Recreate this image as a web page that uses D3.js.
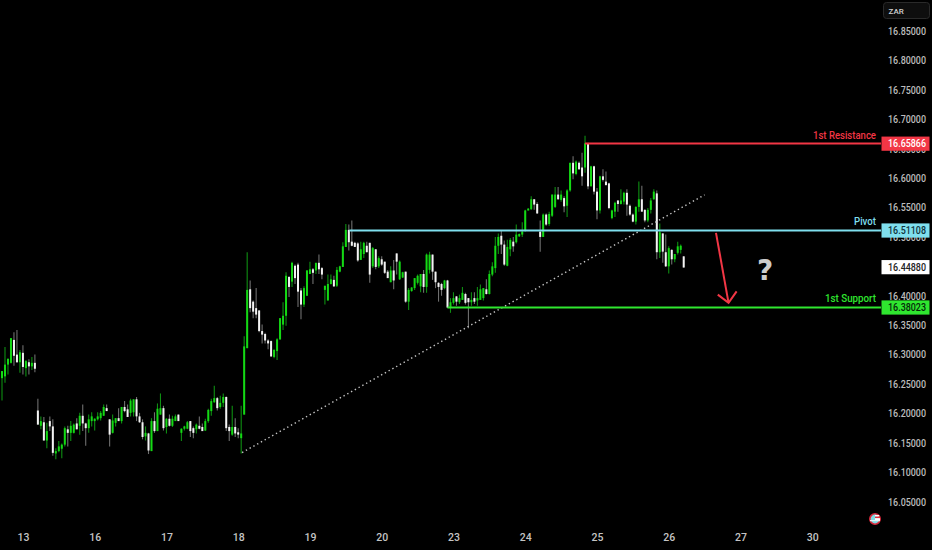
<!DOCTYPE html>
<html><head><meta charset="utf-8">
<script src="https://cdnjs.cloudflare.com/ajax/libs/d3/7.8.5/d3.min.js"></script>
<style>html,body{margin:0;background:#000;overflow:hidden}svg{display:block}text{font-family:Roboto,sans-serif}</style>
</head><body><svg id="c" width="932" height="550"></svg>
<script>
const opens=[16.260,16.263,16.283,16.286,16.325,16.300,16.287,16.303,16.277,16.287,
16.280,16.286,16.205,16.179,16.185,16.154,16.187,16.178,16.132,16.136,
16.140,16.147,16.173,16.167,16.167,16.183,16.179,16.196,16.183,16.175,
16.187,16.187,16.190,16.192,16.196,16.209,16.190,16.167,16.184,16.192,
16.187,16.211,16.207,16.201,16.202,16.224,16.195,16.185,16.161,16.166,
16.136,16.187,16.170,16.198,16.209,16.177,16.191,16.179,16.187,16.198,
16.167,16.174,16.174,16.187,16.175,16.173,16.179,16.177,16.171,16.187,
16.204,16.219,16.226,16.211,16.218,16.228,16.177,16.164,16.177,16.168,
16.158,16.198,16.311,16.411,16.390,16.379,16.375,16.340,16.335,16.324,
16.323,16.296,16.306,16.326,16.351,16.366,16.432,16.424,16.451,16.453,
16.409,16.385,16.400,16.437,16.445,16.443,16.456,16.447,16.410,16.392,
16.420,16.427,16.417,16.441,16.449,16.483,16.512,16.492,16.490,16.489,
16.461,16.471,16.485,16.490,16.450,16.479,16.450,16.462,16.458,16.441,
16.423,16.443,16.472,16.428,16.431,16.441,16.390,16.408,16.413,16.422,
16.416,16.437,16.415,16.444,16.470,16.441,16.422,16.420,16.413,16.426,
16.380,16.388,16.399,16.389,16.393,16.403,16.396,16.389,16.396,16.392,
16.393,16.396,16.411,16.403,16.436,16.447,16.485,16.502,16.487,16.451,
16.479,16.492,16.491,16.501,16.504,16.511,16.545,16.547,16.564,16.556,
16.509,16.500,16.538,16.522,16.536,16.551,16.572,16.563,16.566,16.553,
16.579,16.626,16.607,16.626,16.618,16.618,16.659,16.586,16.620,16.577,
16.545,16.603,16.594,16.591,16.532,16.543,16.562,16.556,16.560,16.575,
16.553,16.538,16.526,16.551,16.564,16.546,16.528,16.546,16.564,16.574,
16.474,16.506,16.474,16.450,16.478,16.462,16.473,16.478,16.467];
const highs=[16.272,16.313,16.293,16.328,16.338,16.342,16.308,16.316,16.291,16.292,
16.296,16.300,16.225,16.195,16.194,16.184,16.195,16.190,16.141,16.153,
16.149,16.178,16.179,16.187,16.183,16.192,16.201,16.215,16.184,16.198,
16.202,16.192,16.202,16.204,16.215,16.215,16.190,16.198,16.192,16.209,
16.211,16.221,16.215,16.225,16.224,16.228,16.201,16.190,16.178,16.167,
16.192,16.202,16.217,16.234,16.213,16.192,16.198,16.196,16.198,16.198,
16.175,16.179,16.187,16.187,16.178,16.183,16.195,16.183,16.191,16.208,
16.225,16.247,16.228,16.230,16.234,16.229,16.181,16.213,16.192,16.175,
16.213,16.331,16.474,16.426,16.392,16.413,16.376,16.351,16.337,16.326,
16.324,16.309,16.328,16.362,16.389,16.440,16.433,16.458,16.453,16.456,
16.413,16.416,16.444,16.458,16.447,16.456,16.470,16.449,16.417,16.436,
16.436,16.434,16.449,16.451,16.491,16.522,16.521,16.528,16.492,16.491,
16.492,16.492,16.492,16.490,16.483,16.479,16.467,16.467,16.458,16.444,
16.450,16.461,16.472,16.460,16.441,16.441,16.413,16.415,16.430,16.436,
16.437,16.444,16.472,16.475,16.470,16.441,16.423,16.422,16.427,16.427,
16.396,16.406,16.399,16.402,16.415,16.405,16.396,16.406,16.406,16.415,
16.419,16.413,16.428,16.443,16.457,16.500,16.506,16.511,16.494,16.495,
16.498,16.500,16.521,16.506,16.525,16.546,16.549,16.569,16.564,16.559,
16.528,16.540,16.540,16.543,16.572,16.585,16.585,16.579,16.569,16.581,
16.626,16.637,16.630,16.628,16.643,16.672,16.660,16.621,16.621,16.583,
16.604,16.615,16.611,16.592,16.546,16.560,16.562,16.581,16.577,16.581,
16.555,16.540,16.552,16.594,16.587,16.547,16.549,16.566,16.581,16.579,
16.523,16.506,16.504,16.484,16.479,16.471,16.492,16.487,16.467];
const lows=[16.222,16.252,16.266,16.285,16.281,16.286,16.269,16.266,16.263,16.266,
16.274,16.270,16.181,16.173,16.154,16.141,16.170,16.128,16.122,16.134,
16.124,16.144,16.144,16.153,16.166,16.173,16.164,16.170,16.145,16.167,
16.178,16.171,16.188,16.188,16.196,16.204,16.144,16.166,16.178,16.187,
16.183,16.202,16.194,16.195,16.195,16.187,16.184,16.156,16.154,16.131,
16.136,16.167,16.170,16.198,16.171,16.166,16.178,16.177,16.187,16.187,
16.153,16.171,16.173,16.160,16.158,16.166,16.173,16.170,16.170,16.184,
16.196,16.218,16.205,16.208,16.211,16.170,16.153,16.162,16.160,16.158,
16.132,16.198,16.311,16.372,16.362,16.362,16.338,16.319,16.319,16.309,
16.296,16.294,16.291,16.325,16.342,16.349,16.398,16.415,16.420,16.381,
16.360,16.381,16.400,16.437,16.420,16.437,16.437,16.428,16.385,16.392,
16.419,16.415,16.415,16.440,16.449,16.483,16.477,16.484,16.483,16.458,
16.461,16.464,16.474,16.422,16.447,16.445,16.447,16.451,16.437,16.430,
16.423,16.411,16.436,16.427,16.430,16.388,16.376,16.407,16.410,16.419,
16.406,16.405,16.405,16.438,16.427,16.413,16.390,16.400,16.411,16.379,
16.371,16.385,16.383,16.386,16.393,16.385,16.345,16.383,16.386,16.383,
16.393,16.392,16.402,16.402,16.433,16.439,16.471,16.471,16.451,16.450,
16.467,16.475,16.489,16.500,16.500,16.509,16.545,16.546,16.546,16.539,
16.475,16.500,16.519,16.519,16.534,16.549,16.563,16.560,16.542,16.534,
16.577,16.598,16.605,16.614,16.587,16.609,16.581,16.586,16.572,16.530,
16.540,16.594,16.588,16.547,16.530,16.534,16.543,16.555,16.555,16.536,
16.536,16.525,16.521,16.543,16.543,16.525,16.525,16.540,16.563,16.462,
16.464,16.456,16.449,16.438,16.453,16.457,16.470,16.472,16.448];
const closes=[16.272,16.283,16.293,16.328,16.298,16.287,16.304,16.279,16.289,16.280,
16.286,16.276,16.181,16.187,16.154,16.170,16.178,16.133,16.136,16.144,
16.147,16.175,16.167,16.179,16.181,16.173,16.196,16.183,16.175,16.190,
16.195,16.191,16.195,16.201,16.211,16.204,16.164,16.188,16.192,16.187,
16.211,16.204,16.194,16.222,16.224,16.195,16.185,16.160,16.167,16.137,
16.187,16.170,16.208,16.209,16.175,16.191,16.179,16.191,16.195,16.187,
16.174,16.178,16.185,16.170,16.167,16.181,16.174,16.170,16.187,16.206,
16.221,16.226,16.209,16.218,16.228,16.175,16.170,16.177,16.166,16.164,
16.166,16.314,16.410,16.379,16.373,16.368,16.340,16.334,16.324,16.319,
16.297,16.308,16.326,16.362,16.366,16.434,16.415,16.456,16.430,16.407,
16.385,16.413,16.443,16.445,16.439,16.456,16.445,16.436,16.417,16.420,
16.428,16.416,16.444,16.450,16.484,16.512,16.491,16.485,16.483,16.460,
16.479,16.490,16.474,16.436,16.481,16.449,16.464,16.453,16.439,16.430,
16.443,16.426,16.458,16.458,16.440,16.390,16.410,16.414,16.430,16.434,
16.437,16.415,16.470,16.470,16.441,16.423,16.415,16.410,16.426,16.380,
16.389,16.396,16.390,16.396,16.405,16.388,16.389,16.393,16.390,16.396,
16.411,16.413,16.403,16.437,16.450,16.485,16.500,16.487,16.453,16.483,
16.495,16.484,16.504,16.505,16.509,16.545,16.548,16.564,16.555,16.540,
16.500,16.538,16.521,16.539,16.572,16.572,16.564,16.572,16.552,16.579,
16.626,16.608,16.628,16.615,16.603,16.659,16.586,16.620,16.577,16.545,
16.603,16.597,16.588,16.549,16.545,16.558,16.556,16.562,16.575,16.555,
16.538,16.526,16.551,16.564,16.543,16.528,16.546,16.562,16.577,16.474,
16.508,16.475,16.450,16.481,16.462,16.471,16.484,16.485,16.448];
const priceTicks=[16.85,16.80,16.75,16.70,16.65,16.60,16.55,16.50,16.45,16.40,16.35,16.30,16.25,16.20,16.15,16.10,16.05];
const dayBars=[7,31,55,79,103,127,151,175,199,223,247,271];
const dayLabels=["13","16","17","18","19","20","23","24","25","26","27","30"];
const levelNames=["1st Resistance","Pivot","1st Support"];
const levelValues=[16.65866,16.51108,16.38023];
const levelStartBars=[195,116.2,149];
const levelColors=["#f23645","#7fdfee","#2fe62f"];
const levelTextColors=["#ffffff","#10323a","#06280a"];
const lastPrice=16.4488;
const trendBars=[80.3,235];
const trendPrices=[16.1335,16.5716];
const arrowBars=[238.8,243,239.4,245.7];
const arrowPrices=[16.507,16.388,16.402,16.4074];

const svg=d3.select("#c");
svg.append("rect").attr("width",932).attr("height",550).attr("fill","#000");
const x=d3.scaleLinear().domain([0,228]).range([2,683.7]);
const y=d3.scaleLinear().domain([16.05,16.85]).range([501.7,31]);
const bars=d3.range(opens.length);
const up=i=>closes[i]>=opens[i];

svg.append("g").selectAll("line").data(bars).join("line")
 .attr("x1",i=>x(i)).attr("x2",i=>x(i)).attr("y1",i=>y(highs[i])).attr("y2",i=>y(lows[i]))
 .attr("stroke",i=>up(i)?"#0e8f12":"#6f6f6f").attr("stroke-width",1.1);
svg.append("g").selectAll("rect").data(bars).join("rect")
 .attr("x",i=>x(i)-1).attr("width",2)
 .attr("y",i=>y(Math.max(opens[i],closes[i])))
 .attr("height",i=>Math.max(1,Math.abs(y(opens[i])-y(closes[i]))))
 .attr("fill",i=>up(i)?"#14d914":"#f4f4f4");

svg.append("line").attr("x1",x(trendBars[0])).attr("y1",y(trendPrices[0])).attr("x2",x(trendBars[1])).attr("y2",y(trendPrices[1]))
 .attr("stroke","#c4c4c4").attr("stroke-width",1.4).attr("stroke-dasharray","1.4 2.9");

const axisR=d3.axisRight(y).tickValues(priceTicks).tickFormat(d3.format(".5f")).tickSize(0).tickPadding(0);
const gR=svg.append("g").attr("transform","translate(888,0)").call(axisR);
gR.select(".domain").remove();
gR.selectAll("text").attr("fill","#bcbcbc").attr("font-size",10.5).attr("font-weight",500).attr("textLength",38).attr("lengthAdjust","spacingAndGlyphs");
const axisB=d3.axisBottom(x).tickValues(dayBars).tickFormat((d,i)=>dayLabels[i]).tickSize(0).tickPadding(0);
const gB=svg.append("g").attr("transform","translate(0,533.5)").call(axisB);
gB.select(".domain").remove();
gB.selectAll("text").attr("fill","#c4c4c4").attr("font-size",10.5).attr("font-weight",500);

const labelWidths=[63,22,51];
levelValues.forEach((v,k)=>{
 svg.append("line").attr("x1",x(levelStartBars[k])).attr("x2",881).attr("y1",y(v)).attr("y2",y(v))
  .attr("stroke",levelColors[k]).attr("stroke-width",2);
 svg.append("text").attr("x",876-labelWidths[k]).attr("y",y(v)-5).attr("textLength",labelWidths[k]).attr("lengthAdjust","spacingAndGlyphs")
  .attr("fill",levelColors[k]).attr("font-size",10).attr("font-weight",500).text(levelNames[k]);
 svg.append("rect").attr("x",881.5).attr("y",y(v)-7).attr("width",48).attr("height",14.2).attr("fill",levelColors[k]);
 svg.append("text").attr("x",888).attr("y",y(v)+3.8).attr("fill",levelTextColors[k]).attr("font-size",10.5).attr("font-weight",500)
  .attr("textLength",38).attr("lengthAdjust","spacingAndGlyphs").text(v.toFixed(5));
});
svg.append("rect").attr("x",881.5).attr("y",y(lastPrice)-7).attr("width",48).attr("height",14.2).attr("fill","#fff");
svg.append("text").attr("x",888).attr("y",y(lastPrice)+3.8).attr("fill","#222").attr("font-size",10.5).attr("font-weight",500)
 .attr("textLength",38).attr("lengthAdjust","spacingAndGlyphs").text(lastPrice.toFixed(5));

svg.append("rect").attr("x",883.5).attr("y",2.5).attr("width",46).attr("height",16).attr("rx",3).attr("fill","#0e0e0e").attr("stroke","#2a2a2a");
svg.append("text").attr("x",888.5).attr("y",14).attr("fill","#cfcfcf").attr("font-size",8).attr("font-weight",500).text("ZAR");

const aPts=arrowBars.map((b,i)=>[x(b),y(arrowPrices[i])]);
const ag=svg.append("g").attr("stroke","#f23645").attr("stroke-width",2).attr("fill","none");
ag.append("line").attr("x1",aPts[0][0]).attr("y1",aPts[0][1]).attr("x2",aPts[1][0]).attr("y2",aPts[1][1]);
ag.append("path").attr("d",d3.line()([aPts[2],aPts[1],aPts[3]]));

svg.append("text").attr("x",765).attr("y",280).attr("text-anchor","middle").attr("fill","#cccccc")
 .attr("font-size",28).attr("font-weight","bold").style("font-family","'DejaVu Sans'").text("?");

const f=svg.append("g").attr("transform","translate(875,519)");
f.append("circle").attr("r",5.2).attr("fill","#7fdbe4").attr("stroke","#d8283a").attr("stroke-width",1.6);
f.append("rect").attr("x",0).attr("y",-4).attr("width",4.2).attr("height",1.6).attr("fill","#fff");
f.append("rect").attr("x",0).attr("y",-2.4).attr("width",4.8).attr("height",1.6).attr("fill","#e0303c");
f.append("rect").attr("x",0).attr("y",-0.8).attr("width",5).attr("height",1.8).attr("fill","#fff");
f.append("rect").attr("x",-5).attr("y",1).attr("width",10).attr("height",1.2).attr("fill","#e8f4f6");
</script></body></html>
